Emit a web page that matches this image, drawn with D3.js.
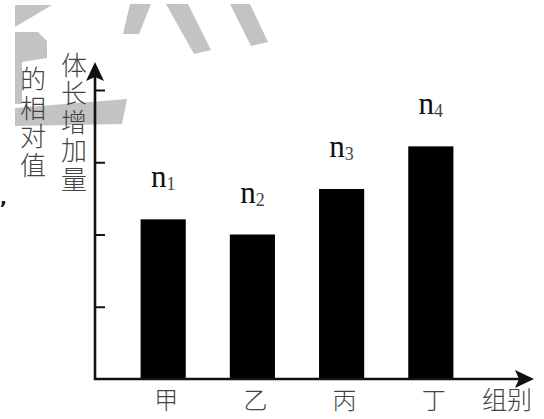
<!DOCTYPE html>
<html>
<head>
<meta charset="utf-8">
<script src="https://cdn.jsdelivr.net/npm/d3@7"></script>
<style>
  html, body { margin: 0; padding: 0; background: #fff; }
  svg { display: block; }
</style>
</head>
<body>
<svg id="chart"></svg>
<script>
// data (relative units, one tick = 1)
const groups = ["甲", "乙", "丙", "丁"];
const values = [2.21, 2.0, 2.63, 3.22];
const subs = ["1", "2", "3", "4"];
const yTicks = [1, 2, 3, 4];
const yTitle1 = "体长增加量";
const yTitle2 = "的相对值";
const xTitle = "组别";

const width = 544, height = 419;
const ox = 95, oy = 379;           // axis origin
const cjk = "'Noto Sans CJK SC', 'Noto Sans', sans-serif";
const serif = "'Liberation Serif', 'DejaVu Serif', serif";

const svg = d3.select("#chart")
  .attr("width", width)
  .attr("height", height)
  .attr("viewBox", `0 0 ${width} ${height}`);

// faint scan watermark behind everything
const wm = svg.append("g").attr("fill", "#c3c3c3");
[
  [[15, 5], [52, 5], [15, 27]],
  [[15, 32], [38, 32], [47, 41], [47, 58], [22, 62], [22, 104], [15, 104]],
  [[15, 108], [127, 99], [122, 124], [15, 126]],
  [[130, 4], [151, 4], [139, 34], [123, 34]],
  [[166, 4], [188, 4], [211, 50], [194, 54]],
  [[230, 4], [250, 4], [268, 42], [251, 46]]
].forEach(p => wm.append("path").attr("d", d3.line()(p) + "Z"));

const x = d3.scaleBand()
  .domain(groups)
  .range([ox + 1, 498])
  .paddingInner(0.494)
  .paddingOuter(0.5);

const y = d3.scaleLinear()
  .domain([0, 4])
  .range([oy, 90]);

// bars
svg.append("g")
  .selectAll("rect")
  .data(values)
  .join("rect")
  .attr("x", (d, i) => x(groups[i]))
  .attr("y", d => y(d))
  .attr("width", x.bandwidth())
  .attr("height", d => y(0) - y(d))
  .attr("fill", "#000");

// n_i labels above bars
const lab = svg.append("g")
  .selectAll("text")
  .data(values)
  .join("text")
  .attr("x", (d, i) => x(groups[i]) + x.bandwidth() / 2)
  .attr("y", d => y(d) - 32)
  .attr("text-anchor", "middle")
  .attr("font-family", serif)
  .attr("font-size", 31)
  .attr("fill", "#111");
lab.append("tspan").text("n");
lab.append("tspan")
  .attr("font-size", 18)
  .attr("dy", 3)
  .attr("fill", "#444")
  .text((d, i) => subs[i]);

// y ticks (inward, no labels)
const yAxis = svg.append("g")
  .attr("transform", `translate(${ox},0)`)
  .call(d3.axisRight(y).tickValues(yTicks).tickSize(10).tickFormat(""));
yAxis.select(".domain").remove();
yAxis.selectAll("line").attr("stroke", "#111").attr("stroke-width", 2);

// axis lines with arrow heads
const axes = svg.append("g").attr("stroke", "#111").attr("fill", "#111");
axes.append("line")
  .attr("x1", ox).attr("y1", oy + 1)
  .attr("x2", ox).attr("y2", 72)
  .attr("stroke-width", 2.6);
axes.append("line")
  .attr("x1", ox - 1).attr("y1", oy)
  .attr("x2", 524).attr("y2", oy)
  .attr("stroke-width", 2.6);
axes.append("path")
  .attr("stroke", "none")
  .attr("d", `M${ox},62 L${ox + 9},81 L${ox},77 L${ox - 9},81 Z`);
axes.append("path")
  .attr("stroke", "none")
  .attr("d", `M534,${oy} L515,${oy + 9} L519,${oy} L515,${oy - 9} Z`);

// category labels
svg.append("g")
  .selectAll("text")
  .data(groups)
  .join("text")
  .attr("x", d => x(d) + x.bandwidth() / 2 + 3)
  .attr("y", 409)
  .attr("text-anchor", "middle")
  .attr("font-family", cjk)
  .attr("font-weight", 300)
  .attr("font-size", 24)
  .attr("fill", "#444")
  .text(d => d);

svg.append("text")
  .attr("x", 482)
  .attr("y", 409)
  .attr("font-family", cjk)
  .attr("font-weight", 300)
  .attr("font-size", 25)
  .attr("fill", "#444")
  .text(xTitle);

// vertical y titles, written top to bottom
function column(str, cx, top, spacing) {
  svg.append("text")
    .attr("x", cx)
    .attr("y", top)
    .style("writing-mode", "vertical-rl")
    .style("letter-spacing", `${spacing}px`)
    .attr("font-family", cjk)
    .attr("font-weight", 300)
    .attr("font-size", 26)
    .attr("fill", "#444")
    .text(str);
}
column(yTitle1, 74, 52, 2.5);
column(yTitle2, 33, 66, 2.8);

// stray comma at the cropped left edge
svg.append("text")
  .attr("x", 0)
  .attr("y", 204)
  .attr("font-family", "'DejaVu Sans', sans-serif")
  .attr("font-weight", "bold")
  .attr("font-size", 18)
  .attr("fill", "#111")
  .text(",");
</script>
</body>
</html>
